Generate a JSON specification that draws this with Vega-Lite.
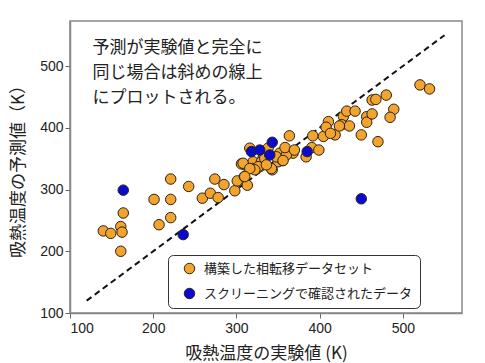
{
  "$schema": "https://vega.github.io/schema/vega-lite/v6.json",
  "autosize": "none",
  "padding": {"left": 70, "top": 21, "right": 23, "bottom": 50},
  "width": 392,
  "height": 292,
  "background": "white",
  "config": {
    "view": {"stroke": "#888", "strokeWidth": 1.5},
    "font": "Noto Sans CJK JP",
    "axis": {
      "grid": false,
      "domainColor": "#888",
      "domainWidth": 1.5,
      "tickColor": "#666",
      "tickSize": 5,
      "labelFont": "Liberation Sans",
      "labelFontSize": 14,
      "labelColor": "#222",
      "titleFont": "Noto Sans CJK JP",
      "titleFontSize": 17,
      "titleFontWeight": "normal",
      "titleColor": "#222"
    }
  },
  "datasets": {
    "pts": [
      {"exp": 140, "pred": 233, "cat": "構築した相転移データセット"},
      {"exp": 149, "pred": 229, "cat": "構築した相転移データセット"},
      {"exp": 161, "pred": 240, "cat": "構築した相転移データセット"},
      {"exp": 162.5, "pred": 231, "cat": "構築した相転移データセット"},
      {"exp": 164, "pred": 262, "cat": "構築した相転移データセット"},
      {"exp": 161, "pred": 200, "cat": "構築した相転移データセット"},
      {"exp": 201, "pred": 284, "cat": "構築した相転移データセット"},
      {"exp": 207, "pred": 243, "cat": "構築した相転移データセット"},
      {"exp": 221, "pred": 317, "cat": "構築した相転移データセット"},
      {"exp": 221, "pred": 284, "cat": "構築した相転移データセット"},
      {"exp": 221, "pred": 254.5, "cat": "構築した相転移データセット"},
      {"exp": 242.6, "pred": 305, "cat": "構築した相転移データセット"},
      {"exp": 259, "pred": 286, "cat": "構築した相転移データセット"},
      {"exp": 268.6, "pred": 294, "cat": "構築した相転移データセット"},
      {"exp": 274, "pred": 317, "cat": "構築した相転移データセット"},
      {"exp": 278, "pred": 287, "cat": "構築した相転移データセット"},
      {"exp": 285, "pred": 308, "cat": "構築した相転移データセット"},
      {"exp": 298, "pred": 298, "cat": "構築した相転移データセット"},
      {"exp": 301, "pred": 314, "cat": "構築した相転移データセット"},
      {"exp": 309.5, "pred": 321, "cat": "構築した相転移データセット"},
      {"exp": 313, "pred": 307, "cat": "構築した相転移データセット"},
      {"exp": 306, "pred": 341.5, "cat": "構築した相転移データセット"},
      {"exp": 310, "pred": 340, "cat": "構築した相転移データセット"},
      {"exp": 320, "pred": 345, "cat": "構築した相転移データセット"},
      {"exp": 319.5, "pred": 334, "cat": "構築した相転移データセット"},
      {"exp": 328, "pred": 337, "cat": "構築した相転移データセット"},
      {"exp": 332, "pred": 351, "cat": "構築した相転移データセット"},
      {"exp": 343, "pred": 332, "cat": "構築した相転移データセット"},
      {"exp": 350, "pred": 345, "cat": "構築した相転移データセット"},
      {"exp": 355.5, "pred": 347, "cat": "構築した相転移データセット"},
      {"exp": 368, "pred": 359, "cat": "構築した相転移データセット"},
      {"exp": 316, "pred": 367, "cat": "構築した相転移データセット"},
      {"exp": 338, "pred": 367, "cat": "構築した相転移データセット"},
      {"exp": 352, "pred": 359, "cat": "構築した相転移データセット"},
      {"exp": 348, "pred": 353, "cat": "構築した相転移データセット"},
      {"exp": 360, "pred": 356, "cat": "構築した相転移データセット"},
      {"exp": 356, "pred": 347, "cat": "構築した相転移データセット"},
      {"exp": 330, "pred": 345, "cat": "構築した相転移データセット"},
      {"exp": 334, "pred": 350.6, "cat": "構築した相転移データセット"},
      {"exp": 308, "pred": 342.6, "cat": "構築した相転移データセット"},
      {"exp": 326, "pred": 337, "cat": "構築した相転移データセット"},
      {"exp": 342, "pred": 334, "cat": "構築した相転移データセット"},
      {"exp": 322, "pred": 332, "cat": "構築した相転移データセット"},
      {"exp": 316, "pred": 334, "cat": "構築した相転移データセット"},
      {"exp": 310, "pred": 321, "cat": "構築した相転移データセット"},
      {"exp": 336, "pred": 340, "cat": "構築した相転移データセット"},
      {"exp": 363.6, "pred": 387, "cat": "構築した相転移データセット"},
      {"exp": 358.4, "pred": 368, "cat": "構築した相転移データセット"},
      {"exp": 369.6, "pred": 364, "cat": "構築した相転移データセット"},
      {"exp": 391.7, "pred": 387, "cat": "構築した相転移データセット"},
      {"exp": 390.5, "pred": 368, "cat": "構築した相転移データセット"},
      {"exp": 399, "pred": 364, "cat": "構築した相転移データセット"},
      {"exp": 383.7, "pred": 353, "cat": "構築した相転移データセット"},
      {"exp": 404.5, "pred": 386, "cat": "構築した相転移データセット"},
      {"exp": 410.5, "pred": 410, "cat": "構築した相転移データセット"},
      {"exp": 407.7, "pred": 401, "cat": "構築した相転移データセット"},
      {"exp": 418.5, "pred": 388.5, "cat": "構築した相転移データセット"},
      {"exp": 413, "pred": 391, "cat": "構築した相転移データセット"},
      {"exp": 428.5, "pred": 418.5, "cat": "構築した相転移データセット"},
      {"exp": 432.5, "pred": 427, "cat": "構築した相転移データセット"},
      {"exp": 442.5, "pred": 427, "cat": "構築した相転移データセット"},
      {"exp": 426.5, "pred": 405, "cat": "構築した相転移データセット"},
      {"exp": 435.7, "pred": 403, "cat": "構築した相転移データセット"},
      {"exp": 423.7, "pred": 403, "cat": "構築した相転移データセット"},
      {"exp": 456.5, "pred": 418, "cat": "構築した相転移データセット"},
      {"exp": 456.5, "pred": 409, "cat": "構築した相転移データセット"},
      {"exp": 463, "pred": 422.5, "cat": "構築した相転移データセット"},
      {"exp": 450, "pred": 388.5, "cat": "構築した相転移データセット"},
      {"exp": 470, "pred": 377.5, "cat": "構築した相転移データセット"},
      {"exp": 463, "pred": 445, "cat": "構築した相転移データセット"},
      {"exp": 467.5, "pred": 446, "cat": "構築した相転移データセット"},
      {"exp": 480, "pred": 453, "cat": "構築した相転移データセット"},
      {"exp": 489, "pred": 430, "cat": "構築した相転移データセット"},
      {"exp": 484.6, "pred": 417, "cat": "構築した相転移データセット"},
      {"exp": 520.5, "pred": 469.5, "cat": "構築した相転移データセット"},
      {"exp": 532, "pred": 463, "cat": "構築した相転移データセット"},
      {"exp": 164, "pred": 299, "cat": "スクリーニングで確認されたデータ"},
      {"exp": 236, "pred": 227, "cat": "スクリーニングで確認されたデータ"},
      {"exp": 450, "pred": 285, "cat": "スクリーニングで確認されたデータ"},
      {"exp": 318, "pred": 361.5, "cat": "スクリーニングで確認されたデータ"},
      {"exp": 328, "pred": 364, "cat": "スクリーニングで確認されたデータ"},
      {"exp": 343, "pred": 376.5, "cat": "スクリーニングで確認されたデータ"},
      {"exp": 340, "pred": 356, "cat": "スクリーニングで確認されたデータ"},
      {"exp": 385, "pred": 361.5, "cat": "スクリーニングで確認されたデータ"}
    ],
    "diag": [
      {"exp": 120, "pred": 120},
      {"exp": 550, "pred": 550}
    ],
    "note": [
      {"exp": 127, "pred": 529, "label": ["予測が実験値と完全に", "同じ場合は斜めの線上", "にプロットされる。"]}
    ]
  },
  "layer": [
    {
      "data": {"name": "diag"},
      "mark": {"type": "line", "color": "#111", "strokeWidth": 2, "strokeDash": [6, 4]},
      "encoding": {
        "x": {"field": "exp", "type": "quantitative", "scale": {"domain": [100, 571], "nice": false, "zero": false},
              "axis": {"values": [100, 200, 300, 400, 500], "title": "吸熱温度の実験値 (K)", "titlePadding": 10, "labelPadding": 3}},
        "y": {"field": "pred", "type": "quantitative", "scale": {"domain": [100, 573], "nice": false, "zero": false},
              "axis": {"values": [100, 200, 300, 400, 500], "title": "吸熱温度の予測値（K）", "titlePadding": 12, "labelPadding": 2}}
      }
    },
    {
      "data": {"name": "pts"},
      "mark": {"type": "point", "filled": true, "size": 110, "stroke": "#2b2216", "strokeWidth": 1, "opacity": 1},
      "encoding": {
        "x": {"field": "exp", "type": "quantitative"},
        "y": {"field": "pred", "type": "quantitative"},
        "color": {
          "field": "cat", "type": "nominal",
          "scale": {"domain": ["構築した相転移データセット", "スクリーニングで確認されたデータ"], "range": ["#F2A42E", "#0A0ACF"]},
          "legend": {
            "title": null,
            "orient": "none",
            "legendX": 98,
            "legendY": 234,
            "padding": 7,
            "symbolOffset": 8,
            "strokeColor": "#333",
            "cornerRadius": 5,
            "fillColor": "white",
            "labelFont": "Noto Sans CJK JP",
            "labelFontSize": 13,
            "labelColor": "#222",
            "labelLimit": 400,
            "labelOffset": 8,
            "symbolSize": 110,
            "symbolStrokeColor": "#2b2216",
            "symbolStrokeWidth": 1,
            "rowPadding": 10,
            "symbolType": "circle"
          }
        }
      }
    },
    {
      "data": {"name": "note"},
      "mark": {"type": "text", "align": "left", "baseline": "middle", "fontSize": 17, "lineHeight": 25, "color": "#222", "font": "Noto Sans CJK JP"},
      "encoding": {
        "x": {"field": "exp", "type": "quantitative"},
        "y": {"field": "pred", "type": "quantitative"},
        "text": {"field": "label"}
      }
    }
  ]
}
